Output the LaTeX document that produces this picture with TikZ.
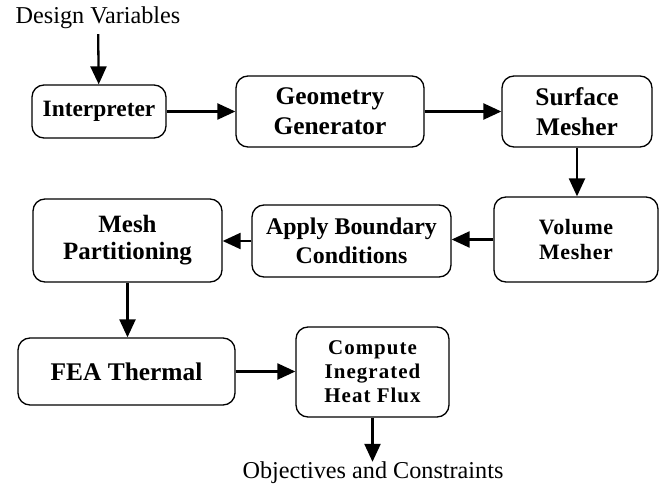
\documentclass[tikz,border=0pt]{standalone}
\usepackage{fontspec}
\setmainfont{Liberation Serif}
\newfontfamily\spacedA[LetterSpace=3]{Liberation Serif}
\newfontfamily\spacedB[LetterSpace=5]{Liberation Serif}
\usetikzlibrary{arrows.meta}
\tikzset{
  blk/.style={draw, line width=1.3bp, rounded corners=12bp, inner sep=0pt, align=center, font=\bfseries\fontsize{24}{29}\selectfont},
  lbl/.style={inner sep=0pt, font=\fontsize{24.3}{29}\selectfont},
  arr/.style={line width=2.3bp, -{Triangle[length=18bp,width=16bp]}}
}
\begin{document}
\begin{tikzpicture}[x=1bp,y=-1bp]
\useasboundingbox (0,0) rectangle (665,485);
\node[lbl] (dv) at (98,18) {Design Variables};
\node[blk, minimum width=134bp, minimum height=53bp, font=\bfseries\fontsize{23.5}{28}\selectfont] (interp) at (99,111.5) {Interpreter};
\node[blk, minimum width=188bp, minimum height=71bp, font=\bfseries\fontsize{25.5}{30}\selectfont] (geom) at (330,111.5) {Geometry\\Generator};
\node[blk, minimum width=150bp, minimum height=71bp, font=\bfseries\fontsize{25.5}{30}\selectfont] (surf) at (577,111.5) {Surface\\Mesher};
\node[blk, minimum width=164bp, minimum height=85bp, font=\spacedA\bfseries\fontsize{22}{25}\selectfont] (vol) at (576,239.5) {Volume\\Mesher};
\node[blk, minimum width=199bp, minimum height=72bp] (apply) at (351.5,241) {Apply Boundary\\Conditions};
\node[blk, minimum width=189bp, minimum height=83bp, font=\bfseries\fontsize{25}{27}\selectfont] (mesh) at (127.5,240.5) {Mesh\\Partitioning};
\node[blk, minimum width=217bp, minimum height=67bp, font=\bfseries\fontsize{25.5}{30}\selectfont] (fea) at (126.5,371.5) {FEA Thermal};
\node[blk, minimum width=153bp, minimum height=90bp, font=\spacedB\bfseries\fontsize{21}{24}\selectfont] (comp) at (372.5,372) {Compute\\Inegrated\\Heat Flux};
\node[lbl] (obj) at (373,473) {Objectives and Constraints};
\draw[arr, shorten <=5bp] (dv) -- (interp);
\draw[arr] (interp.east) -- (geom.west |- interp.east);
\draw[arr] (geom.east) -- (surf.west |- geom.east);
\draw[arr] (surf.south) -- (vol.north -| surf.south);
\draw[arr] (vol.west) -- (apply.east |- vol.west);
\draw[arr] (apply.west) -- (mesh.east |- apply.west);
\draw[arr] (mesh.south) -- (fea.north -| mesh.south);
\draw[arr] (fea.east) -- (comp.west |- fea.east);
\draw[arr] (comp.south) -- (obj.north -| comp.south);
\end{tikzpicture}
\end{document}
